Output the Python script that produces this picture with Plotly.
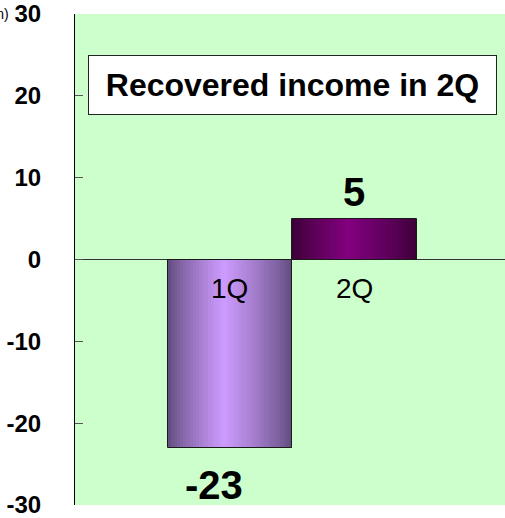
import plotly.graph_objects as go

categories = ["1Q", "2Q"]
values = [-23, 5]
value_labels = ["-23", "5"]
title_text = "Recovered income in 2Q"
unit_text = "(¥bn)"
y_ticks = [-30, -20, -10, 0, 10, 20, 30]
y_tick_text = ["-30", "-20", "-10", "0", "10", "20", "30"]

edge_cols = [(95, 74, 122), (58, 0, 52)]
mid_cols = [(206, 156, 255), (130, 0, 128)]
FONT = "Arial, Liberation Sans, sans-serif"
N = 40

fig = go.Figure()

for i, (cat, val) in enumerate(zip(categories, values)):
    offs, cols = [], []
    for k in range(N):
        t = (k + 0.5) / N
        c = 0.45
        f = 1 - abs(t - c) / (c if t < c else 1 - c)
        f = max(0.0, min(1.0, f)) ** 0.8
        e, m = edge_cols[i], mid_cols[i]
        col = tuple(int(e[j] + (m[j] - e[j]) * f) for j in range(3))
        offs.append(-0.5 + k / N)
        cols.append("rgb(%d,%d,%d)" % col)
    fig.add_trace(go.Bar(
        x=[cat] * N, y=[val] * N, offset=offs, width=[1.0 / N + 0.002] * N,
        marker=dict(color=cols, line=dict(width=0)),
        showlegend=False, hoverinfo="skip"))
    fig.add_trace(go.Bar(
        x=[cat], y=[val], offset=-0.5, width=1.0,
        marker=dict(color="rgba(0,0,0,0)", line=dict(color="#1a1a1a", width=1)),
        showlegend=False, hoverinfo="skip"))

# category labels just below zero line
for cat in categories:
    fig.add_annotation(x=cat, y=0, xref="x", yref="y", text=cat, showarrow=False,
                       yanchor="middle", yshift=-29,
                       font=dict(family=FONT, size=28, color="black"))

# value labels
for cat, val, lab in zip(categories, values, value_labels):
    if val >= 0:
        fig.add_annotation(x=cat, y=val, xref="x", yref="y", text="<b>%s</b>" % lab,
                           showarrow=False, yanchor="middle", yshift=27,
                           font=dict(family=FONT, size=40, color="black"))
    else:
        fig.add_annotation(x=cat, y=val, xref="x", yref="y", text="<b>%s</b>" % lab,
                           showarrow=False, yanchor="middle", yshift=-37, xshift=-16,
                           font=dict(family=FONT, size=40, color="black"))

# title box
fig.add_annotation(x=0.5058, y=0.856, xref="paper", yref="paper",
                   text="<b>%s</b>" % title_text, showarrow=False,
                   xanchor="center", yanchor="middle",
                   width=407, height=58, bgcolor="white",
                   bordercolor="#222222", borderwidth=1, borderpad=0,
                   font=dict(family=FONT, size=32, color="black"))

# unit label (cut off at left as in the reference)
fig.add_annotation(x=-75 / 430 + 11 / 430, y=1.0, xref="paper", yref="paper",
                   text=unit_text, showarrow=False, xanchor="right", yanchor="middle",
                   font=dict(family=FONT, size=14, color="black"))

fig.update_layout(
    width=505, height=518,
    margin=dict(l=75, r=0, t=10, b=11),
    paper_bgcolor="white", plot_bgcolor="#ccffcc",
    barmode="overlay", bargap=0,
    showlegend=False,
    xaxis=dict(type="category", range=[-1.245, 2.209], showticklabels=False,
               showgrid=False, zeroline=False, showline=False, fixedrange=True),
    yaxis=dict(range=[-30, 30], tickvals=y_ticks, ticktext=y_tick_text,
               ticks="inside", ticklen=8,
               tickcolor="#555555", tickwidth=1,
               showline=True, linecolor="black", linewidth=1,
               showgrid=False, zeroline=True, zerolinecolor="#333333", zerolinewidth=1,
               ticklabelstandoff=28, ticklabeloverflow="allow",
               tickfont=dict(family=FONT, size=24, color="black", weight="bold")),
)

fig.write_html("out.html", config={"displayModeBar": False},
               post_script="document.body.style.margin='0';document.body.style.overflow='hidden';")
